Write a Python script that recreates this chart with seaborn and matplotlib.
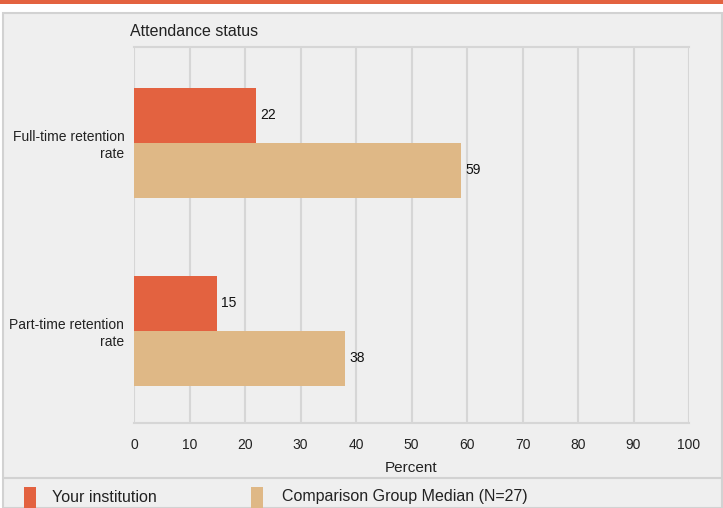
import matplotlib
matplotlib.use("Agg")
import matplotlib.pyplot as plt
import matplotlib.patches as mpatches
import matplotlib.lines as mlines
import pandas as pd
import seaborn as sns

# data
categories = ["Full-time retention\nrate", "Part-time retention\nrate"]
series = ["Your institution", "Comparison Group Median (N=27)"]
institution = [22, 15]
comparison = [59, 38]
x_ticks = [0, 10, 20, 30, 40, 50, 60, 70, 80, 90, 100]

ORANGE = "#E36240"
TAN = "#DFB886"
PANEL = "#EFEFEF"
GRID = "#D6D6D6"

df = pd.DataFrame({
    "category": categories * 2,
    "series": [series[0]] * 2 + [series[1]] * 2,
    "value": institution + comparison,
})

sns.set_theme(style="white")
plt.rcParams["font.family"] = ["Liberation Sans", "DejaVu Sans"]

W, H = 723, 508
fig = plt.figure(figsize=(W / 100, H / 100), dpi=100, facecolor="white")

def fx(px):
    return px / W

def fy(py):
    return 1 - py / H

# top strip and grey panel (behind the axes)
fig.patches.append(mpatches.Rectangle((0, fy(4)), 1, 4 / H, transform=fig.transFigure,
                                      facecolor=ORANGE, edgecolor="none", zorder=-2))
fig.patches.append(mpatches.Rectangle((fx(3), 0), fx(719), fy(13), transform=fig.transFigure,
                                      facecolor=PANEL, edgecolor="#D2D2D2", linewidth=1.5,
                                      zorder=-2))
fig.lines.append(mlines.Line2D([fx(3), fx(722)], [fy(478), fy(478)], transform=fig.transFigure,
                               color="#D2D2D2", linewidth=1.5, zorder=-1))

ax = fig.add_axes([fx(134), fy(423), fx(689 - 134), (423 - 47) / H])
ax.set_facecolor(PANEL)

sns.barplot(data=df, y="category", x="value", hue="series", orient="h",
            palette=[ORANGE, TAN], width=0.585, gap=0, saturation=1,
            linewidth=0, edgecolor="none", legend=False, ax=ax)

for bars in ax.containers:
    ax.bar_label(bars, fmt="%g", padding=3, fontsize=10, color="#111111")

ax.set_xlim(0, 100)
ax.set_ylim(1.49, -0.51)
ax.set_xticks(x_ticks)
ax.set_xticklabels([str(t) for t in x_ticks], fontsize=10, color="#222222")
ax.tick_params(axis="x", length=8, width=1.5, color=GRID, pad=3)
ax.tick_params(axis="y", length=0, pad=7, labelsize=10, labelcolor="#222222")
for lbl in ax.get_yticklabels():
    lbl.set_horizontalalignment("right")
    lbl.set_multialignment("right")
ax.grid(axis="x", color=GRID, linewidth=1.5)
ax.set_axisbelow(True)
for side in ["top", "bottom", "left", "right"]:
    ax.spines[side].set_visible(side in ("top", "bottom"))
    ax.spines[side].set_color(GRID)
    ax.spines[side].set_linewidth(1.5)
ax.set_ylabel("")
ax.set_xlabel("Percent", fontsize=11, color="#222222", labelpad=6)

fig.text(fx(130), fy(32), "Attendance status", fontsize=11.5, color="#222222",
         ha="left", va="center")

# legend
for (x0, tx), name, col in zip([(24, 52), (251, 282)], series, [ORANGE, TAN]):
    fig.patches.append(mpatches.Rectangle((fx(x0), 0), fx(12), (508 - 487) / H,
                                          transform=fig.transFigure, facecolor=col,
                                          edgecolor="none"))
    fig.text(fx(tx), fy(497), name, fontsize=11.5, color="#222222", ha="left", va="center")

fig.savefig("out.png", dpi=100, facecolor="white")
